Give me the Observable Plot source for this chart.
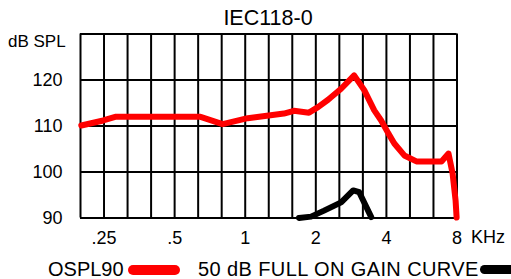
<!DOCTYPE html>
<html><head><meta charset="utf-8">
<script src="https://cdn.jsdelivr.net/npm/d3@7"></script>
<script src="https://cdn.jsdelivr.net/npm/@observablehq/plot@0.6"></script>
<style>
body{margin:0;background:#fff;font-family:"Liberation Sans",Arial,sans-serif;}
#wrap{position:relative;width:511px;height:279px;overflow:hidden;}
#wrap svg{position:absolute;left:0;top:0;}
.t{position:absolute;white-space:nowrap;color:#000;line-height:1;}
.sw{position:absolute;}
</style></head><body><div id="wrap"></div>
<script>
// OSPL90 curve (frequency in kHz, level in dB SPL)
const osplFreq = [0.2, 0.248, 0.279, 0.645, 0.801, 1.025, 1.462, 1.613, 1.87, 2.044, 2.256, 2.564, 2.914, 3.217, 3.551, 3.8, 4.076, 4.323, 4.77, 5.37, 6.87, 7.36, 7.66, 7.89, 7.97];
const osplDb   = [110.1, 111.2, 112.0, 112.0, 110.4, 111.7, 112.7, 113.3, 112.9, 114.1, 115.7, 118.1, 121.0, 117.8, 113.4, 111.2, 108.4, 106.2, 103.6, 102.3, 102.3, 104.0, 99.7, 93.8, 90.1];
// 50 dB full on gain curve
const gainFreq = [1.695, 1.908, 2.169, 2.564, 2.886, 3.063, 3.447];
const gainDb   = [90.0, 90.3, 91.6, 93.4, 96.0, 95.6, 90.2];

const xTicks = [0.25, 0.5, 1, 2, 4, 8];
const xTickLabels = [".25", ".5", "1", "2", "4", "8"];
const yTicks = [90, 100, 110, 120];
const yGrid = [90, 100, 110, 120, 130];
const gridFreqs = d3.range(0, 17).map(k => 8 * Math.pow(2, -k / 3)); // 1/3-octave grid

const ospl = osplFreq.map((f, i) => ({f, db: osplDb[i]}));
const gain = gainFreq.map((f, i) => ({f, db: gainDb[i]}));
const xLab = xTicks.map((f, i) => ({f, label: xTickLabels[i]}));
const font = '"Liberation Sans", Arial, sans-serif';

const chart = Plot.plot({
  width: 511, height: 279,
  marginTop: 33.5, marginBottom: 61.5, marginLeft: 80, marginRight: 54.5,
  style: {fontFamily: font, fontSize: "18px", background: "transparent", color: "#000"},
  x: {type: "log", domain: [8 * Math.pow(2, -16 / 3), 8], axis: null},
  y: {domain: [90, 130]},
  marks: [
    Plot.ruleX(gridFreqs, {stroke: "#000", strokeWidth: 2}),
    Plot.ruleY(yGrid, {stroke: "#000", strokeWidth: 2}),
    Plot.text(xLab, {x: "f", text: "label", frameAnchor: "bottom", lineAnchor: "bottom", dy: 26, fontSize: 18, fill: "#000"}),
    Plot.axisY(yTicks, {tickSize: 0, tickPadding: 18, label: null, fontSize: 18}),
    Plot.line(ospl, {x: "f", y: "db", stroke: "#ff0000", strokeWidth: 6, strokeLinejoin: "round", strokeLinecap: "round"}),
    Plot.line(gain, {x: "f", y: "db", stroke: "#000", strokeWidth: 6, strokeLinejoin: "round", strokeLinecap: "round"})
  ]
});
const wrap = document.getElementById("wrap");
wrap.appendChild(chart);

function addText(txt, left, top, size, extra) {
  const d = document.createElement("div");
  d.className = "t";
  d.textContent = txt;
  d.style.left = left + "px";
  d.style.top = top + "px";
  d.style.fontSize = size + "px";
  if (extra) Object.assign(d.style, extra);
  wrap.appendChild(d);
}
function addSwatch(left, top, w, h, color) {
  const d = document.createElement("div");
  d.className = "sw";
  Object.assign(d.style, {left: left + "px", top: top + "px", width: w + "px", height: h + "px", background: color, borderRadius: (h / 2) + "px"});
  wrap.appendChild(d);
}
addText("IEC118-0", 268, 7.8, 21.5, {transform: "translateX(-50%)"});
addText("dB SPL", 8, 32.9, 17);
addText("KHz", 471, 228.3, 18);
addText("OSPL90", 48, 259.1, 20);
addSwatch(128, 265, 52, 10, "#ff0000");
addText("50 dB FULL ON GAIN CURVE", 198, 259.1, 20, {letterSpacing: "0.4px"});
addSwatch(480, 264.5, 45, 9.5, "#000");
</script></body></html>
